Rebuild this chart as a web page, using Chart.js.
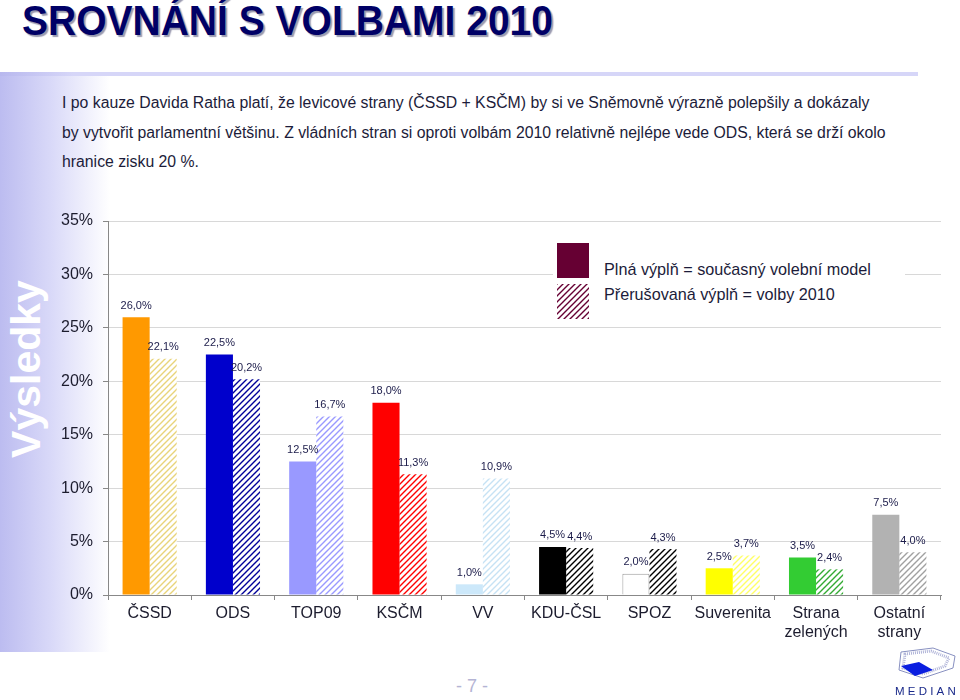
<!DOCTYPE html>
<html lang="cs">
<head>
<meta charset="utf-8">
<title>Srovnání s volbami 2010</title>
<script src="https://cdn.jsdelivr.net/npm/chart.js@4.4.1/dist/chart.umd.min.js"></script>
<style>
  html, body { margin: 0; padding: 0; background: #fff; }
  body { width: 960px; height: 700px; position: relative; overflow: hidden; font-family: "Liberation Sans", Arial, sans-serif; }
  #side { position: absolute; left: 0; top: 76px; width: 110px; height: 576px;
          background: linear-gradient(to right, #bcbcf0 0%, #d8d8f8 45%, #ffffff 100%); }
  #side span { position: absolute; left: 26px; top: 293px; transform: translate(-50%, -50%) rotate(-90deg);
               color: #fff; font-weight: bold; font-size: 41px; white-space: nowrap; }
  #title { position: absolute; left: 22px; top: -3px; font-size: 39px; font-weight: bold; color: #000066;
           text-shadow: 2px 2px 1px #9a9ab0; transform: scaleY(1.08); transform-origin: left top; }
  #rule { position: absolute; left: 0; top: 72px; width: 918px; height: 4px;
          background: linear-gradient(to right, #b8b8ee 0%, #d6d6f8 8%, #d6d6f8 100%); }
  #intro { position: absolute; left: 62px; top: 88px; width: 890px; font-size: 15.8px; line-height: 29.5px; color: #1c1c3a; white-space: nowrap; }
  #chartBox { position: absolute; left: 0; top: 200px; }
  #legend { position: absolute; left: 553px; top: 240px; width: 352px; height: 84px; background: #fff; }
  #legend .box { position: absolute; left: 4px; width: 32px; height: 35px; }
  #legend .txt { position: absolute; left: 51px; font-size: 16.2px; color: #1c1c3a; white-space: nowrap; }
  #page { position: absolute; left: 456px; top: 676px; font-size: 18px; color: #b4b4d4; }
  #logo { position: absolute; left: 893px; top: 646px; width: 67px; }
  #logo div { font-size: 11.5px; letter-spacing: 3.2px; color: #1a2a8a; margin-top: 1px; padding-left: 2px; }
</style>
</head>
<body>
<div id="side"><span>Výsledky</span></div>
<div id="title">SROVNÁNÍ S VOLBAMI 2010</div>
<div id="rule"></div>
<div id="intro">I po kauze Davida Ratha platí, že levicové strany (ČSSD + KSČM) by si ve Sněmovně výrazně polepšily a dokázaly<br>by vytvořit parlamentní většinu. Z vládních stran si oproti volbám 2010 relativně nejlépe vede ODS, která se drží okolo<br>hranice zisku 20 %.</div>

<div id="chartBox"><canvas id="srovnani" width="960" height="460"></canvas></div>

<div id="legend">
  <canvas class="box" id="legSolid" width="32" height="35" style="top:3px"></canvas>
  <canvas class="box" id="legHatch" width="32" height="35" style="top:44px"></canvas>
  <div class="txt" style="top:20px">Plná výplň = současný volební model</div>
  <div class="txt" style="top:45px">Přerušovaná výplň = volby 2010</div>
</div>

<div id="page">- 7 -</div>
<div id="logo">
  <svg width="64" height="34" viewBox="0 0 64 34">
    <path d="M8 6 L40 2 L62 10 L60 22 L30 32 L6 24 Z" fill="none" stroke="#8890c0" stroke-width="1"/>
    <path d="M12 8 L38 5 L56 12 L52 20 L30 28 L10 22 Z" fill="none" stroke="#b0b4d8" stroke-width="3" stroke-dasharray="1 1"/>
    <path d="M8 20 L26 16 L40 24 L22 30 Z" fill="#0a1ee0"/>
  </svg>
  <div>MEDIAN</div>
</div>

<script>
// ===== data =====
const strany = ['ČSSD', 'ODS', 'TOP09', 'KSČM', 'VV', 'KDU-ČSL', 'SPOZ', 'Suverenita', ['Strana', 'zelených'], ['Ostatní', 'strany']];
const model2013 = [26.0, 22.5, 12.5, 18.0, 1.0, 4.5, 2.0, 2.5, 3.5, 7.5];
const volby2010 = [22.1, 20.2, 16.7, 11.3, 10.9, 4.4, 4.3, 3.7, 2.4, 4.0];
const yTicks = [0, 5, 10, 15, 20, 25, 30, 35];

const barvy     = ['#ff9900', '#0000cc', '#9999ff', '#ff0000', '#cce8fa', '#000000', '#ffffff', '#ffff00', '#33cc33', '#b2b2b2'];
const barvySraf = ['#e8d47a', '#000099', '#9999ff', '#ff0000', '#c6e2f4', '#000000', '#000000', '#ffff66', '#33aa33', '#a0a0a0'];

function srafa(color) {
    const c = document.createElement('canvas');
    c.width = 6; c.height = 6;
    const g = c.getContext('2d');
    g.fillStyle = '#fff';
    g.fillRect(0, 0, 6, 6);
    g.strokeStyle = color;
    g.lineWidth = 1.4;
    g.beginPath();
    g.moveTo(-1, 7); g.lineTo(7, -1);
    g.moveTo(-4, 4); g.lineTo(4, -4);
    g.moveTo(2, 10); g.lineTo(10, 2);
    g.stroke();
    return g.createPattern(c, 'repeat');
}

const cisla = v => v.toFixed(1).replace('.', ',') + '%';

// popisky nad sloupci
const popisky = {
    id: 'popisky',
    afterDatasetsDraw(chart) {
        const ctx = chart.ctx;
        ctx.save();
        ctx.font = '11px "Liberation Sans", Arial, sans-serif';
        ctx.fillStyle = '#1c1c4a';
        ctx.textAlign = 'center';
        ctx.textBaseline = 'bottom';
        chart.data.datasets.forEach((ds, i) => {
            chart.getDatasetMeta(i).data.forEach((bar, j) => {
                ctx.fillText(cisla(ds.data[j]), bar.x, bar.y - 6);
            });
        });
        ctx.restore();
    }
};

const ctx = document.getElementById('srovnani');
new Chart(ctx, {
    type: 'bar',
    data: {
        labels: strany,
        datasets: [{
            label: 'Plná výplň = současný volební model',
            data: model2013,
            backgroundColor: barvy,
            borderColor: barvy.map((b, i) => i === 6 ? '#9a9a9a' : b),
            borderWidth: barvy.map((b, i) => i === 6 ? 1 : 0),
            categoryPercentage: 0.65,
            barPercentage: 1
        }, {
            label: 'Přerušovaná výplň = volby 2010',
            data: volby2010,
            backgroundColor: barvySraf.map(srafa),
            borderWidth: 0,
            categoryPercentage: 0.65,
            barPercentage: 1
        }]
    },
    options: {
        responsive: false,
        animation: false,
        devicePixelRatio: 1,
        layout: { padding: { left: 40, top: 21, right: 19, bottom: 6 } },
        plugins: {
            legend: { display: false },
            tooltip: { enabled: false }
        },
        scales: {
            y: {
                min: 0,
                max: 35,
                afterBuildTicks: s => { s.ticks = yTicks.map(v => ({ value: v })); },
                afterFit: s => { s.width = 68; },
                ticks: {
                    callback: v => v + '%',
                    color: '#1c1c2e',
                    padding: 10,
                    font: { family: '"Liberation Sans", Arial, sans-serif', size: 16 }
                },
                grid: { color: '#d8d8d8', tickLength: 5, tickColor: '#888' },
                border: { color: '#888' }
            },
            x: {
                afterFit: s => { s.height = 59; },
                ticks: {
                    color: '#1c1c2e',
                    padding: 4,
                    maxRotation: 0,
                    autoSkip: false,
                    font: { family: '"Liberation Sans", Arial, sans-serif', size: 16, lineHeight: 1.2 }
                },
                grid: { offset: true, drawOnChartArea: false, tickLength: 5, color: '#888' },
                border: { color: '#888' }
            }
        }
    },
    plugins: [popisky]
});

// legenda
const ls = document.getElementById('legSolid').getContext('2d');
ls.fillStyle = '#660033';
ls.fillRect(0, 0, 32, 35);
const lh = document.getElementById('legHatch').getContext('2d');
lh.fillStyle = srafa('#660033');
lh.fillRect(0, 0, 32, 35);
</script>
</body>
</html>
